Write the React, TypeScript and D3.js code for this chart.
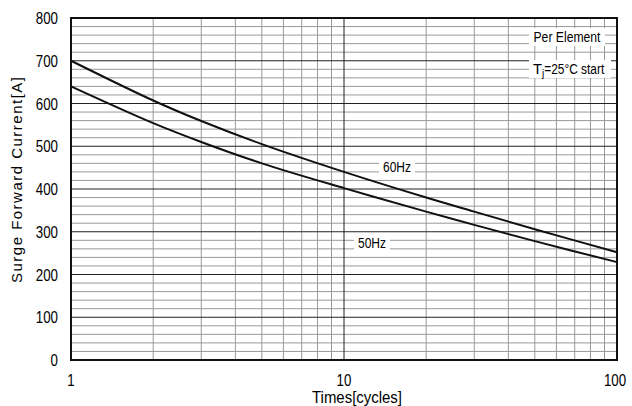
import React from 'react';
import * as d3 from 'd3';

const cycles = [1, 2, 3, 5, 10, 20, 30, 50, 100];
const hz60 = [700, 607, 559, 505, 440, 380, 347, 306, 252];
const hz50 = [640, 554, 510, 460, 402, 347, 316, 278, 229];
const xTickLabels = [1, 10, 100];
const yTicks = [0, 100, 200, 300, 400, 500, 600, 700, 800];

const W = 632;
const H = 406;
const m = { left: 71, right: 15, top: 18, bottom: 46 };
const font = "'Liberation Sans', Arial, sans-serif";

// condensed tall digits like the datasheet font
const Narrow = ({ x, y, text, size, cw, anchor }: any) => (
  <text
    x={x}
    y={y}
    textAnchor={anchor}
    fontSize={size}
    fontFamily={font}
    textLength={cw * String(text).length}
    lengthAdjust="spacingAndGlyphs"
  >
    {text}
  </text>
);

export default function App() {
  const x = d3.scaleLog().domain([1, 100]).range([m.left, W - m.right]);
  const y = d3.scaleLinear().domain([0, 800]).range([H - m.bottom, m.top]);

  const minorX: number[] = [];
  for (const d of [1, 10]) for (let k = 2; k <= 9; k++) minorX.push(d * k);
  const minorY = d3.range(0, 801, 20).filter((v) => v % 100 !== 0);

  const line = d3
    .line<number>()
    .x((_, i) => x(cycles[i]))
    .y((v) => y(v))
    .curve(d3.curveCatmullRom);

  const label = (text: string, cx: number, cy: number, w: number, tw: number) => (
    <g>
      <rect x={cx - w / 2} y={cy - 9} width={w} height={18} fill="#fff" />
      <text x={cx} y={cy + 5} textAnchor="middle" fontSize={14} fontFamily={font} textLength={tw} lengthAdjust="spacingAndGlyphs">
        {text}
      </text>
    </g>
  );

  return (
    <svg width={W} height={H} style={{ position: 'absolute', left: 0, top: 0, background: '#fff' }}>
      {minorY.map((v) => (
        <line key={'my' + v} x1={m.left} x2={W - m.right} y1={y(v)} y2={y(v)} stroke="#999" strokeWidth={1} />
      ))}
      {minorX.map((v) => (
        <line key={'mx' + v} x1={x(v)} x2={x(v)} y1={m.top} y2={H - m.bottom} stroke="#999" strokeWidth={1} />
      ))}
      {yTicks.map((v) => (
        <line key={'y' + v} x1={m.left} x2={W - m.right} y1={y(v)} y2={y(v)} stroke="#222" strokeWidth={1} />
      ))}
      <line x1={x(10)} x2={x(10)} y1={m.top} y2={H - m.bottom} stroke="#222" strokeWidth={1} />

      {label('60Hz', 397, 167, 36, 28)}
      {label('50Hz', 372, 243, 36, 28)}
      {label('Per Element', 567, 37, 76, 67)}
      <g>
        <rect x={529} y={60} width={82} height={18} fill="#fff" />
        <text x={533} y={74} fontSize={14} fontFamily={font}>
          <tspan textLength={9} lengthAdjust="spacingAndGlyphs">T</tspan>
          <tspan fontSize={10} dy={3}>j</tspan>
          <tspan dy={-3} textLength={60} lengthAdjust="spacingAndGlyphs">=25°C start</tspan>
        </text>
      </g>

      <path d={line(hz60) || ''} fill="none" stroke="#111" strokeWidth={2} />
      <path d={line(hz50) || ''} fill="none" stroke="#111" strokeWidth={2} />

      <rect x={m.left} y={m.top} width={W - m.left - m.right} height={H - m.top - m.bottom} fill="none" stroke="#111" strokeWidth={2} />

      {yTicks.map((v) => (
        <Narrow key={'yl' + v} x={m.left - 13} y={y(v) + 6} text={v} size={17} cw={7.4} anchor="end" />
      ))}
      {xTickLabels.map((v) => (
        <Narrow key={'xl' + v} x={x(v) - (v === 100 ? 2 : 0)} y={386} text={v} size={17} cw={7.4} anchor="middle" />
      ))}
      <text x={357} y={403} textAnchor="middle" fontSize={16} fontFamily={font} textLength={90} lengthAdjust="spacingAndGlyphs">
        Times[cycles]
      </text>
      <text
        transform={`translate(22,180) rotate(-90)`}
        textAnchor="middle"
        fontSize={15}
        fontFamily={font}
        textLength={206}
        lengthAdjust="spacing"
      >
        Surge Forward Current[A]
      </text>
    </svg>
  );
}
